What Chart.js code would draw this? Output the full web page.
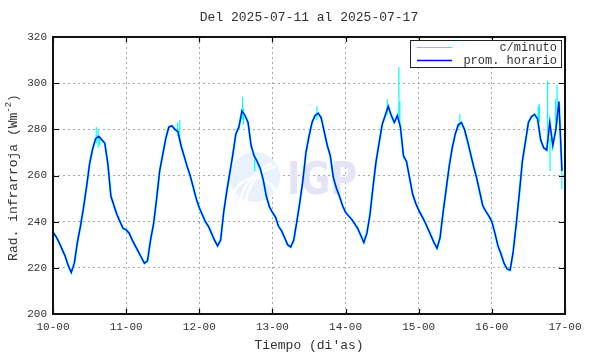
<!DOCTYPE html>
<html><head><meta charset="utf-8">
<script src="https://cdn.jsdelivr.net/npm/chart.js@4.4.0/dist/chart.umd.min.js"></script>
<style>html,body{margin:0;padding:0;background:#fff}</style>
</head><body>
<canvas id="c" width="590" height="354"></canvas>
<script>
const titleText = 'Del 2025-07-11 al 2025-07-17';
const xLabelText = "Tiempo (di'as)";
const yLabelMain = 'Rad. infrarroja (Wm';
const yLabelSup = '-2';
const legendNames = ['c/minuto', 'prom. horario'];
const xTickLabels = ['10-00','11-00','12-00','13-00','14-00','15-00','16-00','17-00'];
const yMin = 200, yMax = 320, yStep = 20;

// hourly averages, 10-00 .. 16-23 (one value per hour)
const day10 = [235.5,233.5,231,228,225,221,218,222,231,238,246,255,265,271.5,276,277,275.5,274,265,251,247,243,240,237];
const day11 = [236.5,235,232,229.5,227,224.5,222,223,232,239,250,262,269,276,281,281.5,280,279,273,268.5,264,260,255,250];
const day12 = [246,243,240,238,235,232,229.5,232,244,253,261,269,278,281,288,286,283,273,268.5,266,263,258,251,246.5];
const day13 = [244,242,238,236,233,230,229,232,240,248.5,258,270,277,283,286,287,285,279,273,268.5,259,254.5,251,247];
const day14 = [244,242.5,241,239,237,234,231,235,243,255,266,274,282,286,290,286,283,286,281,268.5,266,259,252,248];
const day15 = [245,242.5,240,237,234,231,228.5,233,244,254,264,272,278,282,283,280,275,269.5,264,259,253,247,244.5,242.5];
const day16 = [240,235,229.5,226,222,219.5,219,227,239,252,266,274.5,283,285.5,286.5,284.5,275.5,272,271,283,273,280,292,262];
const hourlyAvg = [].concat(day10, day11, day12, day13, day14, day15, day16);

// per-minute series: short excursions visible around the hourly curve
// (hours from 10-00, lower end, upper end)
const minuteSpikeHours = [14.2, 14.8, 15.3, 40.9, 41.6, 62.2, 62.5, 66.2, 86.6, 109.7, 113.5, 113.8, 133.5, 159.2, 159.6, 162.3, 163.1, 164.9, 165.4, 167.0];
const minuteSpikeLow   = [274, 272, 273, 277, 277, 284, 282, 262, 284, 286, 283, 281, 281, 284, 283, 274, 262, 278, 283, 254];
const minuteSpikeHigh  = [281, 280, 277, 283, 284, 294, 289, 268, 290, 293, 307, 292, 286.5, 290, 291, 301, 276, 293, 299, 264];

const hourlyPts = hourlyAvg.map((v, i) => ({x: i, y: v}));
const spikePts = [];
minuteSpikeHours.forEach((h, i) => {
  spikePts.push({x: h, y: minuteSpikeLow[i]}, {x: h, y: minuteSpikeHigh[i]}, {x: h + 0.01, y: null});
});

const MONO = '"Liberation Mono","DejaVu Sans Mono",monospace';
const TXT = '#333333';
const CYAN = '#00ffff', BLUE = '#0000ff';

const deco = {
  id: 'deco',
  beforeDatasetsDraw(chart) {
    const ctx = chart.ctx, a = chart.chartArea;
    ctx.save();
    ctx.beginPath(); ctx.rect(a.left, a.top, a.right - a.left, a.bottom - a.top); ctx.clip();
    // faint logo watermark
    ctx.fillStyle = '#e8f1fc';
    ctx.beginPath(); ctx.arc(255, 177, 25, 0, Math.PI * 2); ctx.fill();
    ctx.strokeStyle = '#ffffff'; ctx.lineWidth = 2.5;
    ctx.beginPath(); ctx.arc(286, 205, 40, Math.PI * 1.02, Math.PI * 1.42); ctx.stroke();
    ctx.beginPath(); ctx.arc(291, 212, 52, Math.PI * 1.05, Math.PI * 1.38); ctx.stroke();
    ctx.beginPath(); ctx.arc(255, 200, 22, Math.PI * 1.05, Math.PI * 1.95); ctx.stroke();
    ctx.fillStyle = '#e4e4f6';
    ctx.font = 'bold 45px "DejaVu Sans",sans-serif';
    ctx.textBaseline = 'alphabetic'; ctx.textAlign = 'left';
    const tw = ctx.measureText('IGP').width;
    ctx.translate(287, 194);
    ctx.scale(70 / tw, 1);
    ctx.fillText('IGP', 0, 0);
    ctx.restore();
  },
  afterDraw(chart) {
    const ctx = chart.ctx, a = chart.chartArea;
    const xs = chart.scales.x, ys = chart.scales.y;
    ctx.save();
    // inward tick marks on all four sides
    ctx.strokeStyle = '#000'; ctx.lineWidth = 1.2;
    ctx.beginPath();
    xTickLabels.forEach((t, i) => {
      const px = Math.round(xs.getPixelForValue(i * 24)) + 0.5;
      ctx.moveTo(px, a.bottom); ctx.lineTo(px, a.bottom - 5);
      ctx.moveTo(px, a.top); ctx.lineTo(px, a.top + 5);
    });
    for (let v = yMin; v <= yMax; v += yStep) {
      const py = Math.round(ys.getPixelForValue(v)) + 0.5;
      ctx.moveTo(a.left, py); ctx.lineTo(a.left + 6, py);
      ctx.moveTo(a.right, py); ctx.lineTo(a.right - 6, py);
    }
    ctx.stroke();
    // frame
    ctx.lineWidth = 2; ctx.strokeStyle = '#111';
    ctx.strokeRect(a.left, a.top, a.right - a.left, a.bottom - a.top);
    // legend
    const lx = 410, ly = 40, lw = 151, lh = 27;
    ctx.fillStyle = '#fff'; ctx.fillRect(lx, ly, lw, lh);
    ctx.lineWidth = 1; ctx.strokeStyle = '#222';
    ctx.strokeRect(lx + 0.5, ly + 0.5, lw, lh);
    ctx.lineWidth = 1;
    ctx.strokeStyle = CYAN;
    ctx.beginPath(); ctx.moveTo(417, 47.5); ctx.lineTo(452, 47.5); ctx.stroke();
    ctx.lineWidth = 1.3;
    ctx.strokeStyle = BLUE;
    ctx.beginPath(); ctx.moveTo(417, 60.5); ctx.lineTo(452, 60.5); ctx.stroke();
    ctx.fillStyle = TXT; ctx.font = '12px ' + MONO;
    ctx.textAlign = 'right'; ctx.textBaseline = 'middle';
    ctx.fillText(legendNames[0], 557, 48);
    ctx.fillText(legendNames[1], 557, 61);
    // title and axis labels
    ctx.font = '13px ' + MONO; ctx.textAlign = 'center';
    ctx.fillText(titleText, (a.left + a.right) / 2, 18);
    ctx.fillText(xLabelText, (a.left + a.right) / 2, 346);
    // y label with superscript
    ctx.translate(14, (a.top + a.bottom) / 2 + 2);
    ctx.rotate(-Math.PI / 2);
    ctx.font = '13px ' + MONO;
    const w1 = ctx.measureText(yLabelMain).width;
    ctx.font = '9px ' + MONO;
    const w2 = ctx.measureText(yLabelSup).width;
    ctx.font = '13px ' + MONO;
    const w3 = ctx.measureText(')').width;
    let x0 = -(w1 + w2 + w3) / 2;
    ctx.textAlign = 'left';
    ctx.fillText(yLabelMain, x0, 0);
    ctx.font = '9px ' + MONO;
    ctx.fillText(yLabelSup, x0 + w1, -5);
    ctx.font = '13px ' + MONO;
    ctx.fillText(')', x0 + w1 + w2, 0);
    ctx.restore();
  }
};

new Chart(document.getElementById('c'), {
  type: 'line',
  data: {
    datasets: [
      { label: legendNames[0], data: hourlyPts, borderColor: CYAN, borderWidth: 2.2, pointRadius: 0, tension: 0, order: 3 },
      { label: legendNames[0] + ' ', data: spikePts, borderColor: CYAN, borderWidth: 1.2, pointRadius: 0, tension: 0, spanGaps: false, order: 2 },
      { label: legendNames[1], data: hourlyPts, borderColor: BLUE, borderWidth: 1.3, pointRadius: 0, tension: 0, order: 1 }
    ]
  },
  options: {
    responsive: false,
    animation: false,
    devicePixelRatio: 1,
    parsing: false,
    layout: { padding: { left: 0, right: 25, top: 37, bottom: 0 } },
    plugins: { legend: { display: false }, tooltip: { enabled: false }, title: { display: false } },
    scales: {
      x: {
        type: 'linear', min: 0, max: 168,
        afterFit(s) { s.height = 40; },
        afterBuildTicks(s) { s.ticks = xTickLabels.map((t, i) => ({ value: i * 24 })); },
        ticks: { autoSkip: false, maxRotation: 0, padding: 6, color: TXT, font: { family: MONO, size: 11 },
                 callback: (v) => xTickLabels[Math.round(v / 24)] },
        grid: { color: '#a8a8a8', lineWidth: 1, drawTicks: false },
        border: { display: false, dash: [2, 3] }
      },
      y: {
        min: yMin, max: yMax,
        afterFit(s) { s.width = 53; },
        ticks: { stepSize: yStep, padding: 6, color: TXT, font: { family: MONO, size: 11 } },
        grid: { color: '#a8a8a8', lineWidth: 1, drawTicks: false },
        border: { display: false, dash: [2, 3] }
      }
    }
  },
  plugins: [deco]
});
</script>
</body></html>
